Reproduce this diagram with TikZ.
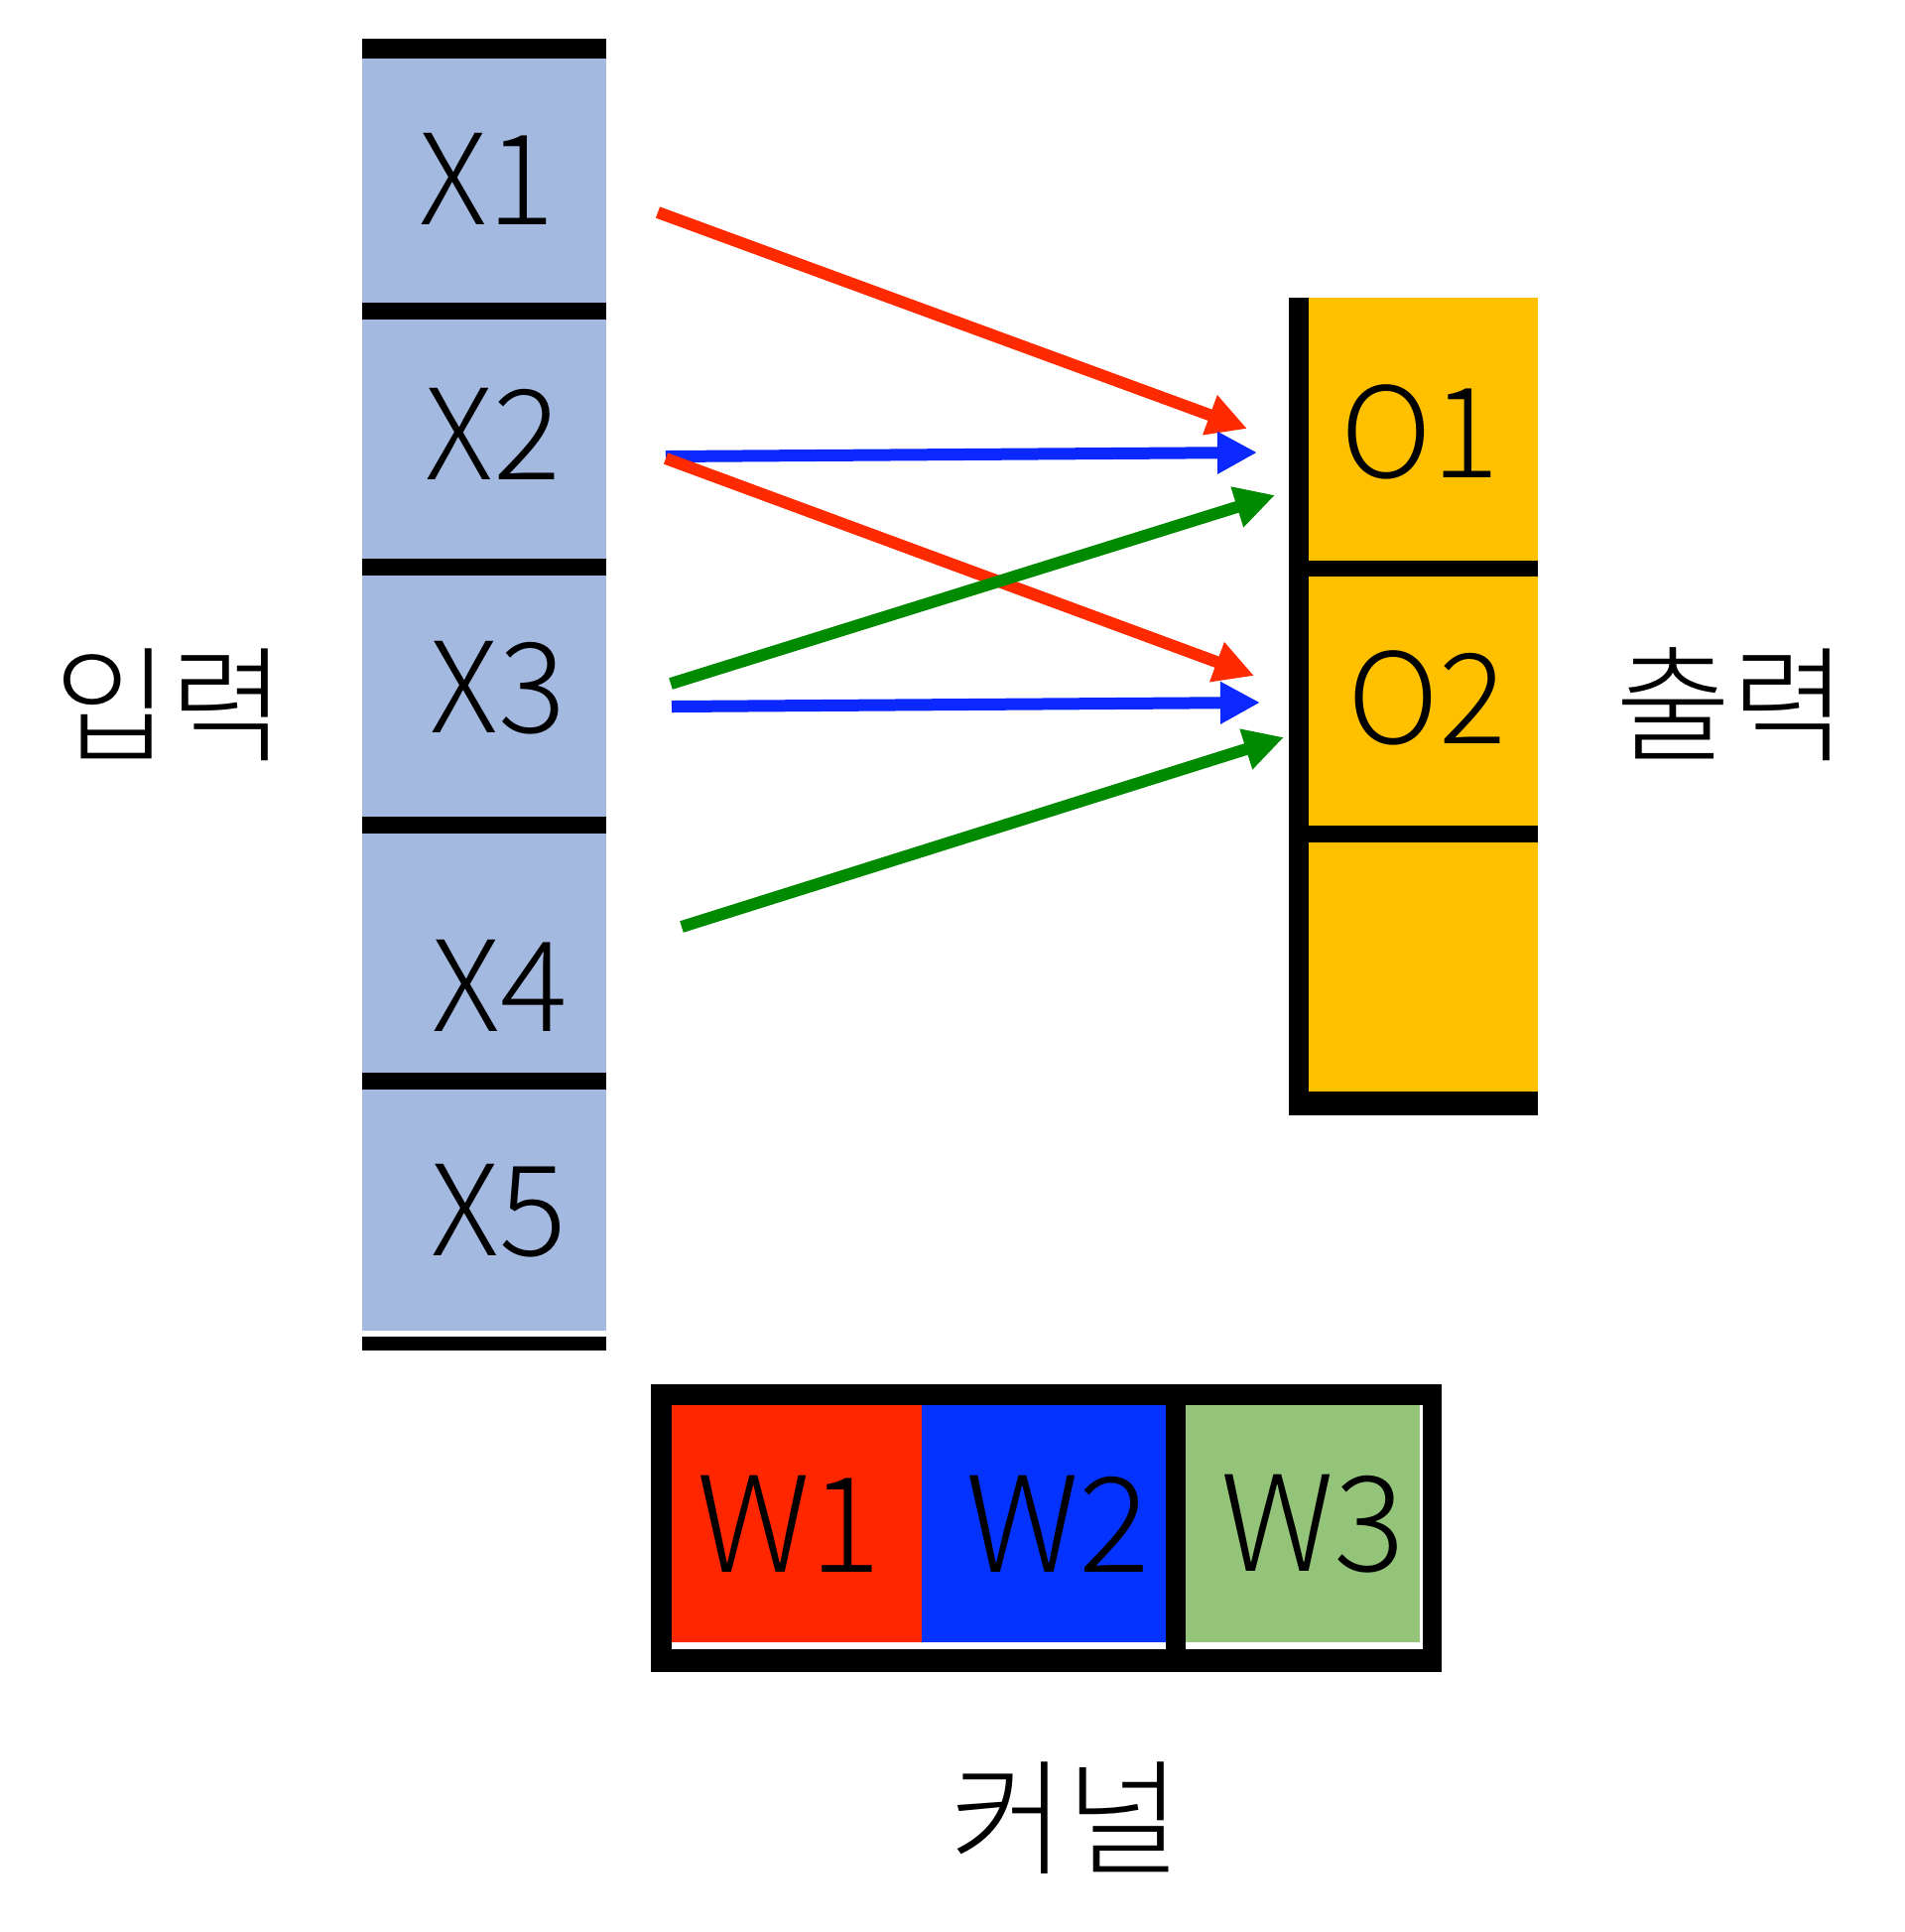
\documentclass[tikz,border=0pt]{standalone}
\usepackage{fontspec}
\newfontfamily\krfont{Noto Sans CJK KR}[UprightFont={* Light}]
\usetikzlibrary{arrows.meta}
\definecolor{inblue}{RGB}{164,185,224}
\definecolor{outorange}{RGB}{255,192,0}
\definecolor{wred}{RGB}{255,38,0}
\definecolor{wblue}{RGB}{4,51,255}
\definecolor{wgreen}{RGB}{147,196,122}
\definecolor{arred}{RGB}{255,42,0}
\definecolor{arblue}{RGB}{10,40,255}
\definecolor{argreen}{RGB}{0,138,0}
\begin{document}
\begin{tikzpicture}[x=1cm, y=-1cm, font=\krfont\fontsize{36}{40}\selectfont,
  bar/.style={line width=0.17cm},
  wlabel/.style={font=\krfont\fontsize{38}{42}\selectfont},
  conn/.style={line width=0.12cm, -{Triangle[length=0.4cm,width=0.4cm]}}]
  \useasboundingbox (0,0) rectangle (19.2,19.47);
  % input column
  \fill[inblue] (3.65,0.58) rectangle (6.11,13.41);
  \draw[line width=0.2cm] (3.65,0.49) -- (6.11,0.49);
  \foreach \y in {3.13,5.71,8.31,10.89} \draw[bar] (3.65,\y) -- (6.11,\y);
  \draw[line width=0.14cm] (3.65,13.54) -- (6.11,13.54);
  \node (x1) at (4.91,1.80) {X1};
  \node (x2) at (4.97,4.37) {X2};
  \node (x3) at (5.02,6.93) {X3};
  \node (x4) at (5.04,9.93) {X4};
  \node (x5) at (5.03,12.20) {X5};
  \node (in) at (1.71,7.10) {입력};
  % output column
  \fill[outorange] (13.19,3.00) rectangle (15.50,11.00);
  \draw[line width=0.2cm] (13.09,3.00) -- (13.09,11.24);
  \draw[line width=0.16cm] (13.19,5.73) -- (15.50,5.73);
  \draw[bar] (13.19,8.40) -- (15.50,8.40);
  \draw[line width=0.24cm] (12.99,11.12) -- (15.50,11.12);
  \node (o1) at (14.31,4.35) {O1};
  \node (o2) at (14.38,7.03) {O2};
  \node (out) at (17.45,7.10) {출력};
  % kernel
  \fill (6.56,13.95) rectangle (14.53,16.85);
  \fill[white] (6.77,14.16) rectangle (11.75,16.62);
  \fill[white] (11.95,14.16) rectangle (14.34,16.62);
  \fill[wred] (6.77,14.16) rectangle (9.29,16.55);
  \fill[wblue] (9.29,14.16) rectangle (11.75,16.55);
  \fill[wgreen] (11.95,14.16) rectangle (14.31,16.55);
  \node[wlabel] (w1) at (7.95,15.36) {W1};
  \node[wlabel] (w2) at (10.66,15.36) {W2};
  \node[wlabel] (w3) at (13.23,15.36) {W3};
  \node (kern) at (10.74,18.32) {커널};
  % connections
  \coordinate (r1s) at (6.63,2.14);  \coordinate (r1e) at (12.57,4.32);
  \coordinate (b1s) at (6.71,4.60);  \coordinate (b1e) at (12.67,4.56);
  \coordinate (r2s) at (6.71,4.62);  \coordinate (r2e) at (12.64,6.81);
  \coordinate (g1s) at (6.76,6.89);  \coordinate (g1e) at (12.85,4.99);
  \coordinate (b2s) at (6.77,7.12);  \coordinate (b2e) at (12.70,7.08);
  \coordinate (g2s) at (6.87,9.34);  \coordinate (g2e) at (12.94,7.43);
  \draw[conn, arred] (r1s) -- (r1e);
  \draw[conn, arblue] (b1s) -- (b1e);
  \draw[conn, arred] (r2s) -- (r2e);
  \draw[conn, argreen] (g1s) -- (g1e);
  \draw[conn, arblue] (b2s) -- (b2e);
  \draw[conn, argreen] (g2s) -- (g2e);
\end{tikzpicture}
\end{document}
